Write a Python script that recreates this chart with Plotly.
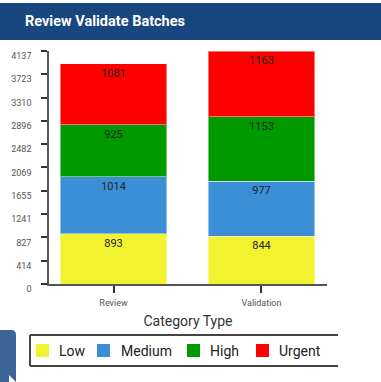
import plotly.graph_objects as go

categories = ["Review", "Validation"]
low = [893, 844]
medium = [1014, 977]
high = [925, 1153]
urgent = [1081, 1163]
series_names = ["Low", "Medium", "High", "Urgent"]
series_colors = ["#f2f22e", "#3a8fd6", "#009900", "#ff0000"]
y_ticks = [0, 414, 827, 1241, 1655, 2069, 2482, 2896, 3310, 3723, 4137]

W, H = 381, 382
L, R, T, B = 49, 327, 51, 284
pw, ph = R - L, B - T

def px(x):
    return (x - L) / pw

def py(y):
    return (B - y) / ph

fig = go.Figure()
for name, vals, col in zip(series_names, [low, medium, high, urgent], series_colors):
    fig.add_trace(go.Bar(
        x=categories, y=vals, name=name,
        marker=dict(color=col, line=dict(color="rgba(255,255,255,0.45)", width=1)),
        text=[str(v) for v in vals], textposition="inside", insidetextanchor="end",
        textangle=0,
        textfont=dict(size=11, color="#222", family="Roboto"),
        hoverinfo="skip", showlegend=False,
    ))

shapes = [
    # title bar
    dict(type="rect", xref="paper", yref="paper", x0=px(-2), x1=px(W + 5), y0=py(40), y1=py(3),
         fillcolor="#18467f", line=dict(width=0), layer="below"),
    # legend frame (clipped on the right)
    dict(type="line", xref="paper", yref="paper", x0=px(30), x1=px(338), y0=py(335), y1=py(335),
         line=dict(color="#444", width=2)),
    dict(type="line", xref="paper", yref="paper", x0=px(30), x1=px(338), y0=py(366), y1=py(366),
         line=dict(color="#444", width=2)),
    dict(type="line", xref="paper", yref="paper", x0=px(30), x1=px(30), y0=py(335), y1=py(366),
         line=dict(color="#444", width=2)),
    # side tab bottom-left
    dict(type="path", xref="paper", yref="paper",
         path=f"M {px(-2)},{py(383)} L {px(-2)},{py(330)} L {px(11)},{py(330)} "
              f"Q {px(16)},{py(330)} {px(16)},{py(335)} L {px(16)},{py(383)} Z",
         fillcolor="#3e6598", line=dict(width=0)),
    dict(type="path", xref="paper", yref="paper",
         path=f"M {px(9)},{py(383)} L {px(9)},{py(375)} L {px(16)},{py(382)} Z",
         fillcolor="white", line=dict(width=0)),
]

annotations = [
    dict(text="<b>Review Validate Batches</b>", xref="paper", yref="paper",
         x=px(23), y=py(22), xanchor="left", yanchor="middle", showarrow=False,
         font=dict(size=14.5, color="white", family="Roboto")),
]

# legend entries (swatch left edge, text left edge)
legend_swatch_x = [36, 97, 187, 256]
legend_text_x = [57, 119, 208, 277]
for name, col, sx, tx in zip(series_names, series_colors, legend_swatch_x, legend_text_x):
    shapes.append(dict(type="rect", xref="paper", yref="paper",
                       x0=px(sx), x1=px(sx + 13), y0=py(357), y1=py(344),
                       fillcolor=col, line=dict(width=0)))
    annotations.append(dict(text=name, xref="paper", yref="paper", x=px(tx), y=py(350.5),
                            xanchor="left", yanchor="middle", showarrow=False,
                            font=dict(size=14, color="#222", family="Roboto")))

fig.update_layout(
    width=W, height=H,
    margin=dict(l=L, r=W - R, t=T, b=H - B, pad=0),
    paper_bgcolor="white", plot_bgcolor="white",
    barmode="stack", bargap=0.28,
    showlegend=False,
    shapes=shapes,
    annotations=annotations,
    xaxis=dict(
        range=[-0.436, 1.443], showgrid=False, zeroline=False,
        showline=True, linecolor="#555", linewidth=1.5,
        ticks="outside", ticklen=7, tickwidth=1.5, tickcolor="#333",
        tickfont=dict(size=9, color="#555", family="Roboto"),
        ticklabelstandoff=2,
        title=dict(text="Category Type", font=dict(size=14, color="#333", family="Roboto"), standoff=10),
        fixedrange=True,
    ),
    yaxis=dict(
        range=[0, 4137], tickvals=y_ticks, ticktext=[str(t) for t in y_ticks],
        showgrid=False, zeroline=False,
        showline=True, linecolor="#555", linewidth=1.5,
        ticks="outside", ticklen=6, tickwidth=1.5, tickcolor="#333",
        tickfont=dict(size=9, color="#555", family="Roboto"),
        ticklabelstandoff=8, ticklabelshift=5, fixedrange=True,
    ),
)

fig.write_html("out.html", config={"displayModeBar": False},
               post_script="document.body.style.margin='0';document.body.style.overflow='hidden';")
